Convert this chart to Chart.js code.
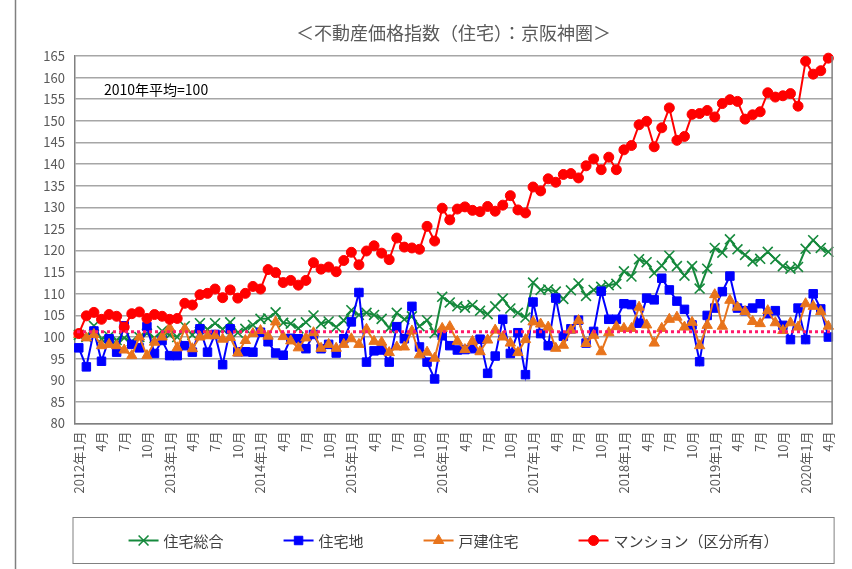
<!DOCTYPE html>
<html lang="ja">
<head>
<meta charset="utf-8">
<title>不動産価格指数（住宅）：京阪神圏</title>
<script src="https://cdn.jsdelivr.net/npm/chart.js@4.4.1/dist/chart.umd.min.js"></script>
<style>
    html, body { margin: 0; padding: 0; background: #fff; }
    #wrap { width: 852px; height: 569px; }
</style>
</head>
<body>
<div id="wrap"><canvas id="chartKeihanshin" width="852" height="569"></canvas></div>
<script>
// 月次カテゴリ（2012年1月〜2020年4月）
const MONTHS = [
    '2012年1月', '2月', '3月', '4月', '5月', '6月', '7月', '8月', '9月', '10月', '11月', '12月',
    '2013年1月', '2月', '3月', '4月', '5月', '6月', '7月', '8月', '9月', '10月', '11月', '12月',
    '2014年1月', '2月', '3月', '4月', '5月', '6月', '7月', '8月', '9月', '10月', '11月', '12月',
    '2015年1月', '2月', '3月', '4月', '5月', '6月', '7月', '8月', '9月', '10月', '11月', '12月',
    '2016年1月', '2月', '3月', '4月', '5月', '6月', '7月', '8月', '9月', '10月', '11月', '12月',
    '2017年1月', '2月', '3月', '4月', '5月', '6月', '7月', '8月', '9月', '10月', '11月', '12月',
    '2018年1月', '2月', '3月', '4月', '5月', '6月', '7月', '8月', '9月', '10月', '11月', '12月',
    '2019年1月', '2月', '3月', '4月', '5月', '6月', '7月', '8月', '9月', '10月', '11月', '12月',
    '2020年1月', '2月', '3月', '4月'
];

const SERIES_NAMES = ['住宅総合', '住宅地', '戸建住宅', 'マンション（区分所有）'];

const SOUGOU = [
    100.5, 100.0, 102.6, 99.5, 100.2, 99.3, 99.8, 99.0, 100.0, 100.8, 99.8, 101.4,
    100.5, 100.0, 102.5, 100.5, 103.2, 101.8, 103.2, 101.8, 103.4, 101.0, 101.9, 102.8,
    104.2, 104.3, 105.7, 103.3, 103.1, 102.0, 103.4, 105.0, 103.1, 103.6, 102.3, 103.8,
    106.2, 105.1, 105.6, 105.1, 104.2, 102.1, 105.6, 104.1, 104.8, 102.5, 103.9, 100.9,
    109.3, 108.0, 107.1, 106.8, 107.4, 106.1, 105.3, 107.1, 108.9, 106.6, 105.6, 104.5,
    112.6, 110.9, 111.0, 110.5, 108.8, 110.8, 112.4, 109.5, 110.9, 111.6, 112.0, 112.3,
    115.2, 114.0, 118.0, 117.3, 114.8, 116.5, 118.8, 116.4, 114.2, 116.4, 111.2, 115.8,
    120.6, 119.5, 122.6, 120.3, 119.0, 117.5, 118.1, 119.7, 118.0, 116.4, 115.8, 116.2,
    120.4, 122.4, 120.6, 119.7
];

const TAKUCHI = [
    97.5, 93.1, 101.4, 94.4, 99.6, 96.5, 102.6, 98.3, 97.5, 102.4, 96.2, 99.2,
    95.7, 95.7, 98.0, 96.5, 101.9, 96.5, 100.6, 93.6, 101.9, 96.6, 96.6, 96.5,
    101.1, 98.9, 96.3, 95.8, 99.7, 99.6, 97.3, 100.6, 97.3, 98.3, 96.3, 99.6,
    103.5, 110.3, 94.2, 96.8, 97.0, 94.2, 102.4, 99.6, 107.1, 97.7, 94.2, 90.3,
    100.3, 98.0, 97.0, 97.1, 97.3, 99.5, 91.6, 95.6, 104.1, 96.2, 101.0, 91.3,
    108.1, 100.8, 98.0, 109.0, 100.2, 101.9, 103.9, 98.6, 101.3, 110.6, 104.1, 104.1,
    107.7, 107.5, 103.2, 109.0, 108.6, 113.6, 110.9, 108.3, 106.4, 102.8, 94.3, 105.0,
    106.7, 110.5, 114.1, 106.7, 106.1, 106.7, 107.7, 105.4, 106.1, 102.7, 99.4, 106.7,
    99.4, 110.0, 106.5, 100.0
];

const KODATE = [
    100.6, 99.8, 100.6, 98.0, 98.3, 98.0, 97.0, 95.7, 100.0, 95.7, 98.8, 100.0,
    102.1, 97.5, 101.9, 97.3, 100.0, 100.3, 100.3, 99.5, 99.9, 96.3, 99.2, 100.8,
    101.5, 100.2, 103.5, 100.1, 99.1, 97.5, 99.8, 101.0, 97.4, 98.3, 97.4, 98.3,
    99.6, 98.3, 101.8, 99.0, 98.8, 96.4, 97.7, 97.7, 101.4, 95.9, 96.5, 95.1,
    102.0, 102.4, 99.0, 97.1, 99.0, 96.6, 99.3, 101.6, 100.0, 98.6, 96.4, 99.4,
    103.5, 103.0, 102.3, 97.4, 98.1, 101.6, 103.8, 98.5, 100.4, 96.6, 101.0, 102.4,
    102.0, 102.0, 106.9, 102.8, 98.6, 102.0, 104.1, 104.6, 102.3, 103.4, 98.0, 102.7,
    109.8, 102.5, 108.5, 106.9, 105.9, 103.6, 103.1, 106.1, 103.3, 101.5, 103.3, 102.3,
    107.7, 107.1, 105.9, 102.5
];

const MANSION = [
    100.8, 104.9, 105.7, 104.1, 105.2, 104.8, 102.3, 105.4, 105.8, 104.3, 105.2, 104.8,
    104.1, 104.3, 107.8, 107.4, 109.8, 110.1, 111.1, 109.1, 110.9, 109.0, 110.1, 111.7,
    111.1, 115.6, 114.9, 112.6, 113.1, 112.0, 113.1, 117.2, 115.7, 116.2, 115.1, 117.7,
    119.6, 116.7, 119.9, 121.1, 119.4, 117.9, 122.9, 120.8, 120.6, 120.3, 125.6, 122.2,
    129.8, 127.1, 129.6, 130.1, 129.3, 129.0, 130.2, 129.1, 130.5, 132.7, 129.4, 128.7,
    134.7, 133.8, 136.6, 135.8, 137.6, 137.8, 136.8, 139.6, 141.2, 138.7, 141.6, 138.7,
    143.3, 144.3, 149.1, 149.9, 144.0, 148.4, 153.0, 145.5, 146.4, 151.5, 151.7, 152.4,
    150.9, 154.0, 154.9, 154.5, 150.4, 151.4, 152.1, 156.5, 155.5, 155.8, 156.3, 153.4,
    163.8, 160.8, 161.6, 164.5
];

// 縦軸の範囲と基準線
const Y_MIN = 80;
const Y_MAX = 165;
const Y_STEP = 5;
const REF_LEVEL = 101.2;

const TITLE_TEXT = '＜不動産価格指数（住宅）：京阪神圏＞';
const NOTE_TEXT = '2010年平均=100';

const FONT = "'Noto Sans CJK JP', 'Noto Sans', sans-serif";
const GREEN = '#15893c';
const BLUE = '#0000ff';
const ORANGE = '#e8741c';
const RED = '#ff0000';
const GRAY_TEXT = '#595959';
const FRAME = '#808080';

function makeSeries(label, data, color, style, radius, order) {
    return {
        label: label,
        data: data,
        borderColor: color,
        backgroundColor: color,
        borderWidth: 2,
        pointStyle: style,
        pointRadius: radius,
        pointBorderWidth: style === 'crossRot' ? 1.6 : 1,
        pointBackgroundColor: color,
        pointBorderColor: color,
        tension: 0,
        clip: false,
        order: order
    };
}

// 枠・タイトル・注記・基準線・凡例
const framePlugin = {
    id: 'framePlugin',
    afterDatasetsDraw(chart) {
        const { ctx, chartArea: a, scales: { y } } = chart;
        const yy = y.getPixelForValue(REF_LEVEL);
        ctx.save();
        ctx.strokeStyle = '#ff1a6c';
        ctx.lineWidth = 3;
        ctx.setLineDash([3, 3]);
        ctx.beginPath();
        ctx.moveTo(a.left + 2, yy);
        ctx.lineTo(a.right, yy);
        ctx.stroke();
        ctx.restore();
    },
    afterDraw(chart) {
        const { ctx, chartArea: a } = chart;
        ctx.save();

        // 右側の枠線
        ctx.strokeStyle = FRAME;
        ctx.lineWidth = 1.5;
        ctx.beginPath();
        ctx.moveTo(a.right, a.top);
        ctx.lineTo(a.right, a.bottom);
        ctx.stroke();

        // 外枠（左）
        ctx.beginPath();
        ctx.moveTo(15.5, 0);
        ctx.lineTo(15.5, chart.height);
        ctx.stroke();

        // タイトル
        ctx.fillStyle = GRAY_TEXT;
        ctx.font = '18px ' + FONT;
        ctx.textAlign = 'center';
        ctx.textBaseline = 'middle';
        ctx.fillText(TITLE_TEXT, (a.left + a.right) / 2, 33);

        // 注記
        ctx.fillStyle = '#000';
        ctx.font = '14px ' + FONT;
        ctx.textAlign = 'left';
        ctx.fillText(NOTE_TEXT, 104, 90);

        // 凡例
        const boxL = a.left - 2, boxR = a.right + 2, boxT = 517.5, boxB = 563.5;
        ctx.strokeStyle = FRAME;
        ctx.lineWidth = 1;
        ctx.strokeRect(boxL, boxT, boxR - boxL, boxB - boxT);

        ctx.font = '15px ' + FONT;
        const lineLen = 30, textGap = 5, itemGap = 60;
        const items = chart.data.datasets.map(ds => ({ ds, w: lineLen + textGap + ctx.measureText(ds.label).width }));
        const total = items.reduce((s, it) => s + it.w, 0) + itemGap * (items.length - 1);
        let x = (boxL + boxR) / 2 - total / 2;
        const cy = (boxT + boxB) / 2;
        items.forEach(({ ds, w }) => {
            ctx.strokeStyle = ds.borderColor;
            ctx.fillStyle = ds.backgroundColor;
            ctx.lineWidth = 2;
            ctx.beginPath();
            ctx.moveTo(x, cy);
            ctx.lineTo(x + lineLen, cy);
            ctx.stroke();
            ctx.lineWidth = ds.pointBorderWidth;
            Chart.helpers.drawPoint(ctx, { pointStyle: ds.pointStyle, radius: ds.pointRadius, rotation: 0, borderWidth: ds.pointBorderWidth }, x + lineLen / 2, cy);
            ctx.fillStyle = '#404040';
            ctx.textAlign = 'left';
            ctx.textBaseline = 'middle';
            ctx.fillText(ds.label, x + lineLen + textGap, cy + 1);
            x += w + itemGap;
        });

        ctx.restore();
    }
};

const ctx = document.getElementById('chartKeihanshin');

new Chart(ctx, {
    type: 'line',
    data: {
        labels: MONTHS,
        datasets: [
            makeSeries(SERIES_NAMES[0], SOUGOU, GREEN, 'crossRot', 7, 4),
            makeSeries(SERIES_NAMES[1], TAKUCHI, BLUE, 'rect', 6, 3),
            makeSeries(SERIES_NAMES[2], KODATE, ORANGE, 'triangle', 6, 2),
            makeSeries(SERIES_NAMES[3], MANSION, RED, 'circle', 5, 1)
        ]
    },
    options: {
        responsive: false,
        animation: false,
        layout: { padding: { left: 15, right: 14, top: 56, bottom: 0 } },
        plugins: {
            legend: { display: false },
            title: { display: false },
            tooltip: { enabled: false }
        },
        scales: {
            x: {
                offset: true,
                grid: { display: false, drawTicks: false },
                border: { color: FRAME, width: 1.5 },
                ticks: {
                    autoSkip: false,
                    minRotation: 90,
                    maxRotation: 90,
                    padding: 8,
                    color: GRAY_TEXT,
                    font: { family: FONT, size: 13 },
                    callback: function (value, index) {
                        return index % 3 === 0 ? this.getLabelForValue(value) : '';
                    }
                },
                afterFit: s => { s.height = 145.5; }
            },
            y: {
                min: Y_MIN,
                max: Y_MAX,
                grid: { color: '#a6a6a6', lineWidth: 1.5, drawTicks: false },
                border: { color: FRAME, width: 1.5 },
                ticks: {
                    stepSize: Y_STEP,
                    padding: 10,
                    color: GRAY_TEXT,
                    font: { family: FONT, size: 13 }
                },
                afterFit: s => { s.width = 60; }
            }
        }
    },
    plugins: [framePlugin]
});
</script>
</body>
</html>
